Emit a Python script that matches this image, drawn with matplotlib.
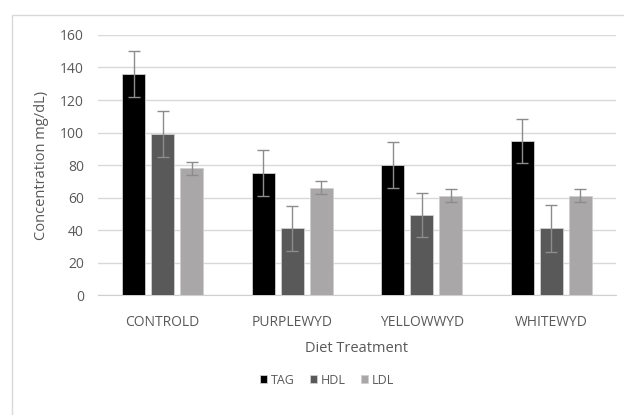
import numpy as np
import matplotlib
matplotlib.use("Agg")
import matplotlib.pyplot as plt
from matplotlib.patches import Rectangle

plt.rcParams["font.family"] = ["Open Sans", "DejaVu Sans"]

# 데이터
treatments = ["CONTROLD", "PURPLEWYD", "YELLOWWYD", "WHITEWYD"]
series = ["TAG", "HDL", "LDL"]
tag = [136, 75, 80, 95]
hdl = [99, 41, 49, 41]
ldl = [78, 66, 61, 61]
tag_err = [14, 14, 14, 13.5]
hdl_err = [14, 14, 13.5, 14.5]
ldl_err = [4, 4, 4, 4]
yticks = [0, 20, 40, 60, 80, 100, 120, 140, 160]

colors = ["#000000", "#595959", "#a9a7a7"]
values = [tag, hdl, ldl]
errors = [tag_err, hdl_err, ldl_err]

fig = plt.figure(figsize=(6.24, 4.15), dpi=100)
ax = fig.add_axes([0.157, 0.289, 0.83, 0.6267])

x = np.arange(len(treatments))
width = 0.178
step = 0.224

for k in range(3):
    ax.bar(
        x + (k - 1) * step,
        values[k],
        width,
        color=colors[k],
        edgecolor="#cfcfcf",
        linewidth=0.6,
        label=series[k],
        zorder=3,
    )
    ax.errorbar(
        x + (k - 1) * step,
        values[k],
        yerr=errors[k],
        fmt="none",
        ecolor="#8c8c8c",
        elinewidth=1,
        capsize=4,
        capthick=1,
        zorder=4,
    )

ax.set_xlim(-0.5, len(treatments) - 0.5)
ax.set_ylim(0, 160)
ax.set_yticks(yticks)
ax.set_xticks(x)
ax.set_xticklabels(treatments)
ax.yaxis.grid(True, color="#d9d9d9", linewidth=1)
ax.set_axisbelow(True)

for side in ["top", "right", "left"]:
    ax.spines[side].set_visible(False)
ax.spines["bottom"].set_color("#d0d0d0")

ax.tick_params(axis="both", length=0, labelsize=10, labelcolor="#595959")
ax.tick_params(axis="x", pad=14)
ax.tick_params(axis="y", pad=10)

ax.set_ylabel("Concentration mg/dL)", fontsize=10.5, color="#595959", labelpad=8)
ax.set_xlabel("Diet Treatment", fontsize=10.5, color="#595959", labelpad=8)

fig.legend(
    loc="center",
    bbox_to_anchor=(0.524, 0.084),
    ncol=3,
    frameon=False,
    fontsize=9,
    handlelength=0.6,
    handleheight=0.6,
    handletextpad=0.3,
    columnspacing=1.2,
    labelcolor="#595959",
)

# 차트 외곽선
fig.add_artist(Rectangle(
    (12 / 624, -0.1), 1.0, (400 / 415) + 0.1,
    transform=fig.transFigure,
    fill=False, edgecolor="#d9d9d9", linewidth=1,
))

fig.savefig("out.png", dpi=100, facecolor="white")
